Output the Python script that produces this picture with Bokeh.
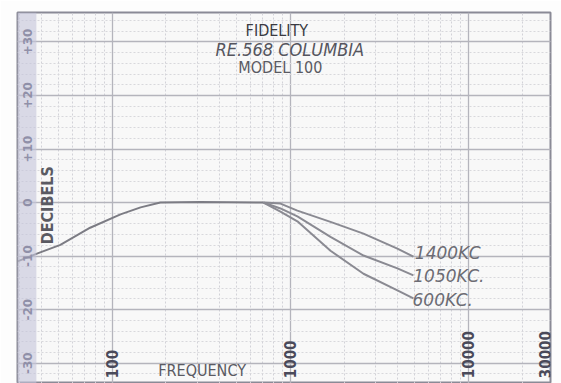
import math
from bokeh.plotting import figure
from bokeh.models import FixedTicker, BoxAnnotation, Range1d
from bokeh.core.properties import value
from bokeh.embed import file_html
from bokeh.resources import INLINE

# ---- data ----
freq_common = [29.3, 38, 51, 75, 111, 144, 186, 312, 705]
db_common = [-11.0, -9.5, -7.9, -4.7, -2.2, -0.9, 0.0, 0.1, 0.0]

freq_split = [705, 879, 1094, 1679, 2573, 3990, 4907]
db_1400 = [0.0, -0.2, -1.5, -3.6, -5.8, -8.6, -10.1]
db_1050 = [0.0, -1.1, -2.6, -6.4, -9.9, -12.3, -13.6]
db_600 = [0.0, -1.7, -3.5, -9.0, -13.3, -16.4, -17.9]

curve_labels = ["1400KC", "1050KC.", "600KC."]
curve_label_db = [-9.4, -13.7, -18.2]
curve_label_freq = [5000, 4900, 4850]

x_ticks = [100, 1000, 10000]
x_tick_labels = ["100", "1000", "10000"]
x_last_tick = [30000]
x_last_label = ["30000"]
y_ticks = [30, 20, 10, 0, -10, -20, -30]
y_tick_labels = ["+30", "+20", "+10", "0", "-10", "-20", "-30"]

title_lines = ["FIDELITY", "RE.568 COLUMBIA", "MODEL 100"]

FONT = "DejaVu Sans"
FONT_N = "DejaVu Sans Condensed, DejaVu Sans"

p = figure(width=561, height=383, x_axis_type="log",
           x_range=Range1d(29.3, 28900), y_range=Range1d(-33.8, 35.5),
           output_backend="svg", toolbar_location=None,
           min_border_left=17, min_border_right=11, min_border_top=12, min_border_bottom=0)
p.background_fill_color = "#f8f8f8"
p.border_fill_color = "#fdfdfd"
p.outline_line_color = "#8a8a96"
p.outline_line_width = 2
p.axis.visible = False

minor_x = []
for dec in [10, 100, 1000, 10000]:
    for m in range(2, 10):
        minor_x.append(dec * m)
xt = FixedTicker(ticks=x_ticks + x_last_tick, minor_ticks=minor_x)
p.xaxis.ticker = xt
p.xgrid.ticker = xt
yt = FixedTicker(ticks=list(range(-30, 40, 10)), minor_ticks=list(range(-34, 36, 2)))
p.yaxis.ticker = yt
p.ygrid.ticker = yt

p.xgrid.grid_line_color = "#b4b4bc"
p.xgrid.grid_line_width = 1.3
p.xgrid.minor_grid_line_color = "#d2d2d8"
p.xgrid.minor_grid_line_dash = "2 2"
p.ygrid.grid_line_color = "#b4b4bc"
p.ygrid.grid_line_width = 1.3
p.ygrid.minor_grid_line_color = "#d8d8dc"
p.ygrid.minor_grid_line_dash = "2 2"

# label strip at the left edge
p.add_layout(BoxAnnotation(right=37.4, fill_color="#c4c4da", fill_alpha=0.6, line_color=None))

# curves
p.line(freq_common, db_common, line_color="#7c7c84", line_width=2)
p.line(freq_split, db_1400, line_color="#8a8a92", line_width=2)
p.line(freq_split, db_1050, line_color="#8a8a92", line_width=2)
p.line(freq_split, db_600, line_color="#8a8a92", line_width=2)

# y tick labels inside the strip
p.text(x=[33.3] * len(y_ticks), y=y_ticks, text=y_tick_labels, angle=math.pi / 2,
       text_align="center", text_baseline="middle", text_font=value(FONT),
       text_font_size="12px", text_font_style="bold", text_color="#42425e")

# x tick labels written on the grid (bottom-anchored, reading upwards)
p.text(x=x_ticks, y=[-32.8] * len(x_ticks), text=x_tick_labels, angle=math.pi / 2,
       text_align="left", text_baseline="middle", text_font=value(FONT_N),
       text_font_size="15px", text_font_style="bold", text_color="#4a4a5a")
p.text(x=x_last_tick, y=[-32.8], text=x_last_label, angle=math.pi / 2,
       text_align="left", text_baseline="bottom", text_font=value(FONT_N),
       text_font_size="15px", text_font_style="bold", text_color="#4a4a5a", x_offset=-2)

p.text(x=[43], y=[-0.5], text=["DECIBELS"], angle=math.pi / 2,
       text_align="center", text_baseline="middle", text_font=value(FONT_N),
       text_font_size="16px", text_font_style="bold", text_color="#5a5a62")
p.text(x=[181], y=[-31.4], text=["FREQUENCY"],
       text_align="left", text_baseline="middle", text_font=value(FONT_N),
       text_font_size="16px", text_color="#5a5a62")

# title block
p.text(x=[560], y=[32.2], text=[title_lines[0]], text_align="left", text_baseline="middle",
       text_font=value(FONT_N), text_font_size="16px", text_color="#3a3a42")
p.text(x=[380], y=[28.6], text=[title_lines[1]], text_align="left", text_baseline="middle",
       text_font=value(FONT_N), text_font_size="18px", text_font_style="italic", text_color="#55555e")
p.text(x=[510], y=[25.2], text=[title_lines[2]], text_align="left", text_baseline="middle",
       text_font=value(FONT_N), text_font_size="16px", text_color="#5a5a62")

# curve labels
p.text(x=curve_label_freq, y=curve_label_db, text=curve_labels, text_align="left",
       text_baseline="middle", text_font=value(FONT), text_font_size="17px",
       text_font_style="italic", text_color="#6c6c74")

open("out.html", "w").write(file_html(p, INLINE))
